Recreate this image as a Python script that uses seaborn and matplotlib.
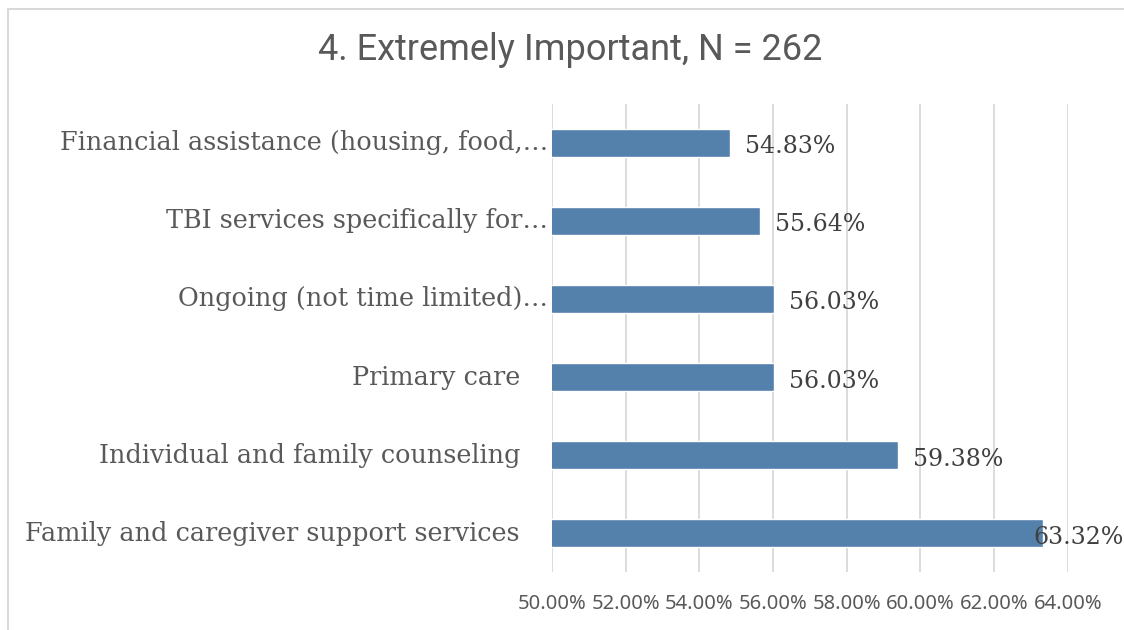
import matplotlib
matplotlib.use("Agg")
import matplotlib.pyplot as plt
import matplotlib.transforms as mtransforms
from matplotlib.patches import Rectangle
import seaborn as sns
import pandas as pd

categories = [
    "Financial assistance (housing, food,\u2026",
    "TBI services specifically for\u2026",
    "Ongoing (not time limited)\u2026",
    "Primary care",
    "Individual and family counseling",
    "Family and caregiver support services",
]
values = [54.83, 55.64, 56.03, 56.03, 59.38, 63.32]
x_ticks = [50, 52, 54, 56, 58, 60, 62, 64]

df = pd.DataFrame({"category": categories, "pct": values})

sns.set_style("white")
fig = plt.figure(figsize=(11.24, 6.3), dpi=100)
ax = fig.add_axes([0.491, 0.092, 0.459, 0.743])

sns.barplot(data=df, y="category", x="pct", orient="h", color="#5480ac",
            saturation=1, width=0.36, ax=ax)

ax.set_xlim(50, 64)
ax.set_ylim(5.5, -0.5)
ax.set_xticks(x_ticks)
ax.set_xticklabels([f"{t:.2f}%" for t in x_ticks], family="Noto Sans",
                   fontsize=14.5, color="#595959")
ax.tick_params(axis="x", length=0, pad=16)
ax.grid(axis="x", color="#d9d9d9", linewidth=1.3)
ax.set_axisbelow(True)
for s in ax.spines.values():
    s.set_visible(False)
ax.set_xlabel("")
ax.set_ylabel("")
ax.set_yticks([])

serif = "DejaVu Serif"

# category labels, right aligned left of the plot area
for i, c in enumerate(categories):
    off = 4 if c.endswith("\u2026") else 32
    tr = mtransforms.offset_copy(ax.get_yaxis_transform(), fig=fig, x=-off, y=0, units="dots")
    ax.text(0, i, c, transform=tr, ha="right", va="center", family=serif,
            fontsize=18.4, color="#595959")

# value labels
edge = mtransforms.blended_transform_factory(fig.transFigure, ax.transData)
for i, v in enumerate(values):
    if v > 62.5:
        tr = mtransforms.offset_copy(edge, fig=fig, x=0, y=-4, units="dots")
        ax.text(1.0, i, f"{v:.2f}%", transform=tr, ha="right", va="center",
                family=serif, fontsize=17, color="#404040", clip_on=False)
    else:
        tr = mtransforms.offset_copy(ax.transData, fig=fig, x=15, y=-4, units="dots")
        ax.text(v, i, f"{v:.2f}%", transform=tr, ha="left", va="center",
                family=serif, fontsize=17, color="#404040", clip_on=False)

fig.text(0.507, 0.92, "4. Extremely Important, N = 262", ha="center", va="center",
         family="Roboto", fontsize=26, color="#595959")

# chart frame (cut at right and bottom)
fig.patches.append(Rectangle((8 / 1124, -0.1), 1.2, 0.1 + 1 - 9 / 630,
                             transform=fig.transFigure, fill=False,
                             edgecolor="#d9d9d9", linewidth=1.5))

fig.savefig("out.png", dpi=100)
